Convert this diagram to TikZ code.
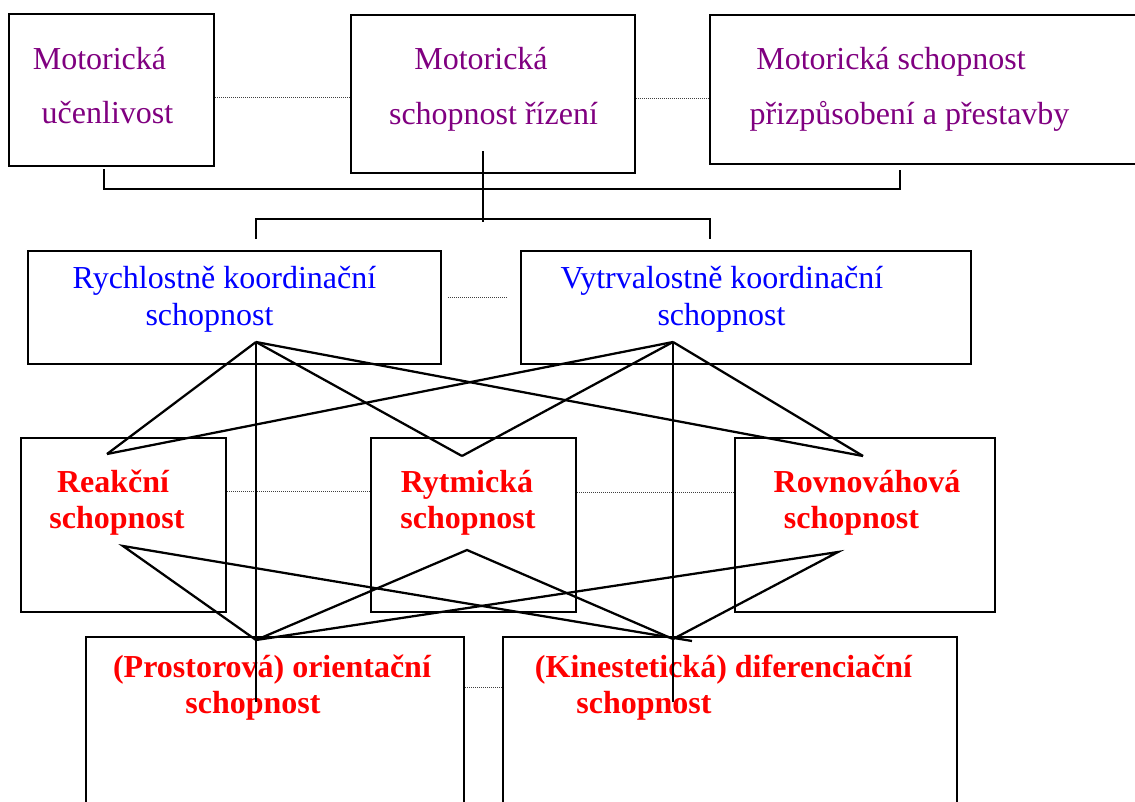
\documentclass[tikz,border=0pt]{standalone}
\usepackage{fontspec}
\setmainfont{Liberation Serif}
\usepackage{xcolor}
\usetikzlibrary{fit}
\definecolor{motpurple}{RGB}{128,0,128}
\definecolor{koblue}{RGB}{0,0,255}
\definecolor{spred}{RGB}{255,0,0}

\begin{document}
\begin{tikzpicture}[x=0.75pt, y=-0.75pt,
    box/.style={draw, line width=1.8pt, inner sep=0pt},
    link/.style={line width=1.7pt},
    dots/.style={line width=0.6pt, black!75, dash pattern=on 0.75pt off 0.75pt},
    lbl/.style={anchor=base, inner sep=0pt, font=\fontsize{24}{28}\selectfont},
    mot/.style={lbl, text=motpurple},
    koo/.style={lbl, text=koblue},
    sch/.style={lbl, text=spred, font=\bfseries\fontsize{24}{28}\selectfont}]

    \useasboundingbox (0,0) rectangle (1135,801);

    % boxes
    \node[box, fit={(9,14) (214,166)}] (ucen) {};
    \node[box, fit={(351,15) (635,173)}] (rizeni) {};
    \node[box, fit={(710,15) (1145,164)}] (prizp) {};
    \node[box, fit={(28,251) (441,364)}] (rychl) {};
    \node[box, fit={(521,251) (971,364)}] (vytr) {};
    \node[box, fit={(21,438) (226,612)}] (reak) {};
    \node[box, fit={(371,438) (576,612)}] (rytm) {};
    \node[box, fit={(735,438) (995,612)}] (rovn) {};
    \node[box, fit={(86,637) (464,815)}] (orie) {};
    \node[box, fit={(503,637) (957,815)}] (dife) {};

    % texts
    \node[mot] (ucen-a) at (99.5,69) {Motorická};
    \node[mot] (ucen-b) at (107.5,123) {učenlivost};
    \node[mot] (rizeni-a) at (481,69) {Motorická};
    \node[mot] (rizeni-b) at (493.5,124) {schopnost řízení};
    \node[mot] (prizp-a) at (891,69) {Motorická schopnost};
    \node[mot] (prizp-b) at (909.5,124) {přizpůsobení a přestavby};
    \node[koo] (rychl-a) at (224.5,288) {Rychlostně koordinační};
    \node[koo] (rychl-b) at (209.5,325) {schopnost};
    \node[koo] (vytr-a) at (722,288) {Vytrvalostně koordinační};
    \node[koo] (vytr-b) at (721.5,325) {schopnost};
    \node[sch] (reak-a) at (113,492) {Reakční};
    \node[sch] (reak-b) at (117,528) {schopnost};
    \node[sch] (rytm-a) at (467,492) {Rytmická};
    \node[sch] (rytm-b) at (468,528) {schopnost};
    \node[sch] (rovn-a) at (867,492) {Rovnováhová};
    \node[sch] (rovn-b) at (851.5,528) {schopnost};
    \node[sch] (orie-a) at (272,677) {(Prostorová) orientační};
    \node[sch] (orie-b) at (253,713) {schopnost};
    \node[sch] (dife-a) at (723.5,677) {(Kinestetická) diferenciační};
    \node[sch] (dife-b) at (644,713) {schopnost};

    % dotted links between neighbours
    \draw[dots] (ucen.east |- 0,97) -- (rizeni.west |- 0,97);
    \draw[dots] (rizeni.east |- 0,98) -- (prizp.west |- 0,98);
    \draw[dots, shorten <=4.5pt, shorten >=9.75pt] (rychl.east |- 0,297) -- (vytr.west |- 0,297);
    \draw[dots] (reak.east |- 0,491) -- (rytm.west |- 0,491);
    \draw[dots] (rytm.east |- 0,492) -- (rovn.west |- 0,492);
    \draw[dots] (orie.east |- 0,687) -- (dife.west |- 0,687);

    % bracket under the top row
    \coordinate (ucen-foot) at (104,169);
    \coordinate (prizp-foot) at (900,170);
    \coordinate (rizeni-stem) at (483,151);
    \coordinate (rizeni-root) at (483,222);
    \coordinate (rychl-tick) at (256,239);
    \coordinate (vytr-tick) at (710,239);
    \draw[link] (ucen-foot) -- ++(0,20) -| (prizp-foot);
    \draw[link] (rizeni-stem) -- (rizeni-root);
    \draw[link] (rychl-tick) |- (rizeni-root |- 0,219) -| (vytr-tick);

    % crossing lines
    \coordinate (rychl-apex) at (256,342);
    \coordinate (vytr-apex) at (673,342);
    \coordinate (reak-top) at (107,454);
    \coordinate (reak-bot) at (123,546);
    \coordinate (rytm-top) at (462,456);
    \coordinate (rytm-bot) at (467,550);
    \coordinate (rovn-top) at (863,456);
    \coordinate (rovn-bot) at (838,552);
    \coordinate (orie-top) at (256,640);
    \coordinate (orie-end) at (256,702);
    \coordinate (dife-top) at (673,639);
    \coordinate (dife-end) at (673,702);
    \coordinate (dife-over) at (692,641);

    \foreach \from in {rychl-apex, vytr-apex}
        \foreach \to in {reak-top, rytm-top, rovn-top}
            \draw[link] (\from) -- (\to);
    \draw[link] (rychl-apex) -- (orie-end);
    \draw[link] (vytr-apex) -- (dife-end);

    \foreach \from in {rytm-bot, rovn-bot}
        \draw[link] (orie-top) -- (\from) -- (dife-top);
    \draw[link] (orie-top) -- (reak-bot) -- (dife-over);

\end{tikzpicture}
\end{document}
